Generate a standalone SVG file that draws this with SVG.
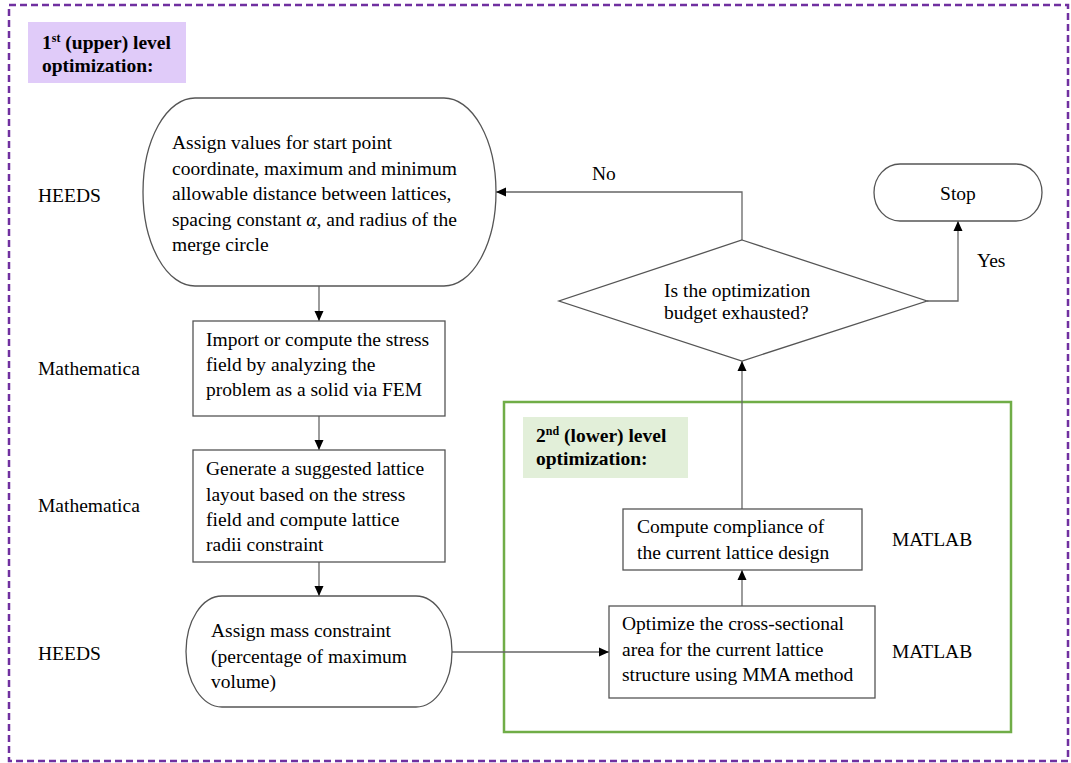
<svg xmlns="http://www.w3.org/2000/svg" width="1071" height="763" viewBox="0 0 1071 763">
<defs>
<marker id="ah" markerUnits="userSpaceOnUse" markerWidth="10" markerHeight="10" refX="10" refY="5" orient="auto">
<path d="M0,0.5 L10,5 L0,9.5 z" fill="#000"/>
</marker>
<style>
text{font-family:"Liberation Serif","Times New Roman",serif;font-size:19.5px;fill:#000}
.b{font-weight:bold}
.sup{font-size:12px}
.node{fill:#fff;stroke:#555;stroke-width:1.3}
.con{fill:none;stroke:#666;stroke-width:1.3}
</style>
</defs>
<rect width="1071" height="763" fill="#fff"/>
<rect x="9" y="5" width="1059" height="756" fill="none" stroke="#7030a0" stroke-width="2.5" stroke-dasharray="7 4"/>
<g id="upper-label">
<rect x="28" y="22" width="158" height="61" fill="#e0cbf9"/>
<text class="b" x="42" y="49">1<tspan class="sup" dy="-7">st</tspan><tspan dy="7"> (upper) level</tspan></text>
<text class="b" x="42" y="72">optimization:</text>
</g>
<g id="lower-frame">
<rect x="504" y="402" width="507" height="330" fill="none" stroke="#70ad47" stroke-width="2.5"/>
<rect x="523" y="417" width="165" height="61" fill="#e2efd9"/>
<text class="b" x="536" y="442">2<tspan class="sup" dy="-7">nd</tspan><tspan dy="7"> (lower) level</tspan></text>
<text class="b" x="536" y="465">optimization:</text>
</g>
<g id="connectors">
<line class="con" x1="319" y1="286" x2="319" y2="321" marker-end="url(#ah)"/>
<line class="con" x1="319" y1="416" x2="319" y2="450" marker-end="url(#ah)"/>
<line class="con" x1="319" y1="562" x2="319" y2="596" marker-end="url(#ah)"/>
<line class="con" x1="452" y1="652" x2="609" y2="652" marker-end="url(#ah)"/>
<line class="con" x1="742" y1="606" x2="742" y2="570" marker-end="url(#ah)"/>
<line class="con" x1="742" y1="509" x2="742" y2="361" marker-end="url(#ah)"/>
<polyline class="con" points="742,240 742,192 496,192" marker-end="url(#ah)"/>
<polyline class="con" points="927,301 958,301 958,221" marker-end="url(#ah)"/>
<text x="592" y="180">No</text>
<text x="977" y="267">Yes</text>
</g>
<g id="assign-values">
<rect class="node" x="143" y="98" width="353" height="188" rx="52" ry="94"/>
<text x="172" y="149">Assign values for start point</text>
<text x="172" y="175">coordinate, maximum and minimum</text>
<text x="172" y="200">allowable distance between lattices,</text>
<text x="172" y="226">spacing constant <tspan font-style="italic">α</tspan>, and radius of the</text>
<text x="172" y="251">merge circle</text>
</g>
<g id="stress-field">
<rect class="node" x="193" y="321" width="252" height="95"/>
<text x="206" y="346">Import or compute the stress</text>
<text x="206" y="371">field by analyzing the</text>
<text x="206" y="396">problem as a solid via FEM</text>
</g>
<g id="lattice-layout">
<rect class="node" x="193" y="450" width="252" height="112"/>
<text x="206" y="475">Generate a suggested lattice</text>
<text x="206" y="501">layout based on the stress</text>
<text x="206" y="526">field and compute lattice</text>
<text x="206" y="551">radii constraint</text>
</g>
<g id="mass-constraint">
<rect class="node" x="186" y="596" width="266" height="111" rx="36" ry="55.5"/>
<text x="211" y="637">Assign mass constraint</text>
<text x="211" y="663">(percentage of maximum</text>
<text x="211" y="688">volume)</text>
</g>
<g id="optimize-area">
<rect class="node" x="609" y="606" width="266" height="92"/>
<text x="622" y="630">Optimize the cross-sectional</text>
<text x="622" y="656">area for the current lattice</text>
<text x="622" y="681">structure using MMA method</text>
</g>
<g id="compliance">
<rect class="node" x="623" y="509" width="239" height="61"/>
<text x="637" y="533">Compute compliance of</text>
<text x="637" y="559">the current lattice design</text>
</g>
<g id="decision">
<polygon class="node" points="742,240 927,301 742,361 559,301"/>
<text x="664" y="297">Is the optimization</text>
<text x="664" y="319">budget exhausted?</text>
</g>
<g id="stop">
<rect class="node" x="874" y="164" width="168" height="57" rx="26" ry="28.5"/>
<text x="958" y="200" text-anchor="middle">Stop</text>
</g>
<g id="tool-labels">
<text x="38" y="202">HEEDS</text>
<text x="38" y="375">Mathematica</text>
<text x="38" y="512">Mathematica</text>
<text x="38" y="660">HEEDS</text>
<text x="892" y="546">MATLAB</text>
<text x="892" y="658">MATLAB</text>
</g>
</svg>
